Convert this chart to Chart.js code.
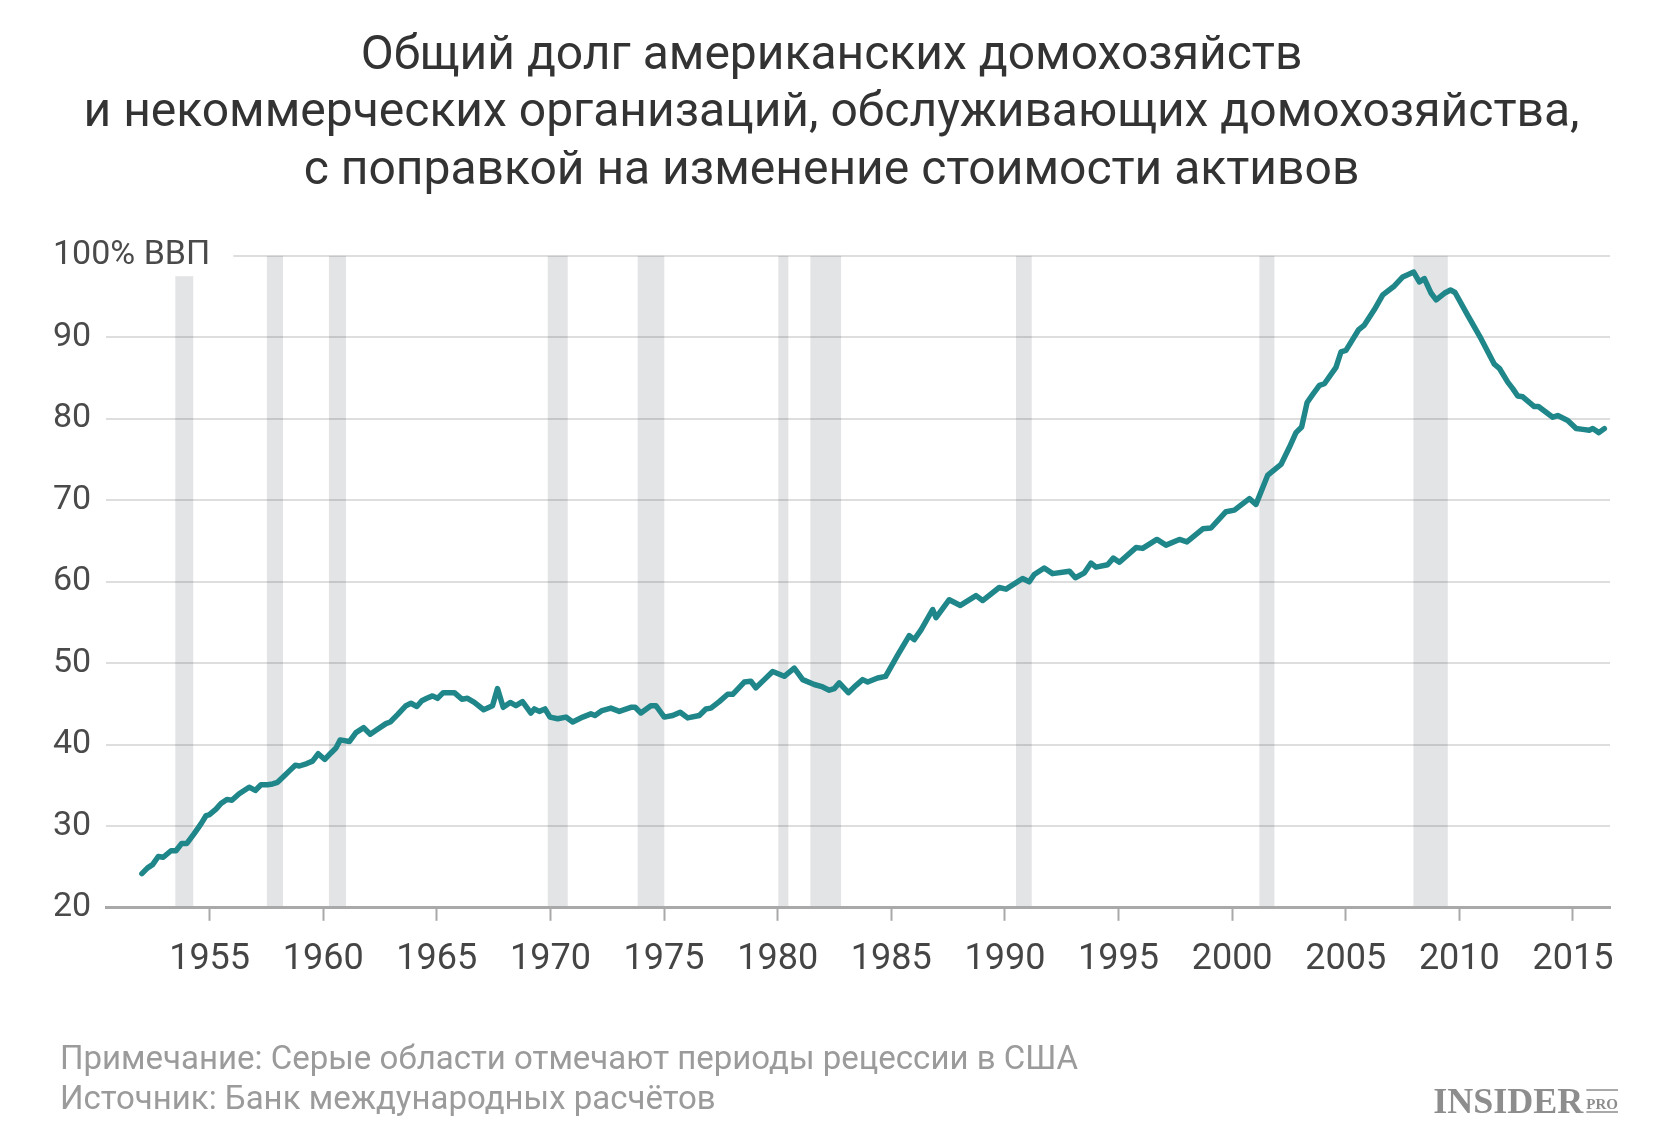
<!DOCTYPE html>
<html lang="ru">
<head>
<meta charset="utf-8">
<title>Общий долг американских домохозяйств</title>
<script src="https://cdn.jsdelivr.net/npm/chart.js@4"></script>
<style>
  html, body { margin: 0; padding: 0; background: #fff; }
  #wrap { width: 1667px; height: 1141px; position: relative; }
</style>
</head>
<body>
<div id="wrap"><canvas id="debtChart"></canvas></div>
<script>

// quarterly points (decimal year, % of GDP)
const quarters = [
  1952.02, 1952.27, 1952.49, 1952.74, 1952.96, 1953.30, 1953.52, 1953.77, 1954.00, 1954.32,
  1954.62, 1954.84, 1954.98, 1955.28, 1955.50, 1955.76, 1955.98, 1956.30, 1956.52, 1956.74,
  1957.01, 1957.26, 1957.55, 1957.77, 1957.99, 1958.29, 1958.51, 1958.77, 1958.95, 1959.28,
  1959.53, 1959.78, 1960.07, 1960.34, 1960.56, 1960.75, 1961.15, 1961.44, 1961.78, 1962.07,
  1962.39, 1962.76, 1962.95, 1963.27, 1963.64, 1963.86, 1964.12, 1964.34, 1964.56, 1964.81,
  1965.03, 1965.28, 1965.77, 1966.10, 1966.35, 1966.65, 1967.06, 1967.45, 1967.67, 1967.92,
  1968.23, 1968.48, 1968.77, 1969.14, 1969.29, 1969.51, 1969.76, 1969.98, 1970.32, 1970.68,
  1970.98, 1971.42, 1971.78, 1971.96, 1972.27, 1972.66, 1973.03, 1973.54, 1973.73, 1973.98,
  1974.42, 1974.64, 1975.01, 1975.38, 1975.71, 1976.04, 1976.55, 1976.84, 1977.06, 1977.43,
  1977.80, 1978.02, 1978.53, 1978.82, 1979.04, 1979.41, 1979.78, 1980.29, 1980.73, 1981.10,
  1981.61, 1981.98, 1982.27, 1982.49, 1982.71, 1983.11, 1983.45, 1983.74, 1983.96, 1984.40,
  1984.75, 1985.28, 1985.79, 1986.01, 1986.31, 1986.82, 1986.97, 1987.55, 1988.04, 1988.73,
  1989.02, 1989.75, 1990.05, 1990.78, 1991.07, 1991.29, 1991.73, 1992.10, 1992.84, 1993.10,
  1993.50, 1993.79, 1994.01, 1994.52, 1994.77, 1995.04, 1995.77, 1996.06, 1996.69, 1997.09,
  1997.68, 1998.01, 1998.71, 1999.07, 1999.73, 2000.10, 2000.76, 2001.05, 2001.57, 2002.15,
  2002.52, 2002.81, 2003.06, 2003.30, 2003.55, 2003.84, 2004.06, 2004.57, 2004.79, 2005.01,
  2005.56, 2005.82, 2006.26, 2006.63, 2007.14, 2007.51, 2007.99, 2008.24, 2008.46, 2008.76,
  2008.98, 2009.34, 2009.61, 2009.81, 2010.37, 2010.96, 2011.54, 2011.76, 2012.13, 2012.35,
  2012.57, 2012.79, 2013.30, 2013.48, 2014.11, 2014.33, 2014.77, 2015.14, 2015.43, 2015.72,
  2015.87, 2016.14, 2016.38
];

const debtPct = [
  24.2, 24.9, 25.3, 26.3, 26.2, 27.0, 27.0, 27.9, 27.9, 29.1,
  30.3, 31.3, 31.4, 32.1, 32.8, 33.3, 33.2, 34.0, 34.4, 34.8,
  34.4, 35.1, 35.1, 35.2, 35.4, 36.2, 36.8, 37.5, 37.4, 37.7,
  38.0, 38.9, 38.2, 39.0, 39.6, 40.6, 40.4, 41.5, 42.1, 41.3,
  41.9, 42.6, 42.8, 43.7, 44.8, 45.1, 44.7, 45.4, 45.7, 46.0,
  45.7, 46.4, 46.4, 45.6, 45.7, 45.2, 44.3, 44.8, 46.9, 44.6,
  45.2, 44.8, 45.3, 43.9, 44.4, 44.1, 44.4, 43.4, 43.2, 43.4,
  42.8, 43.4, 43.8, 43.6, 44.2, 44.5, 44.1, 44.6, 44.6, 43.9,
  44.8, 44.8, 43.4, 43.6, 44.0, 43.3, 43.6, 44.4, 44.5, 45.3,
  46.2, 46.2, 47.7, 47.8, 47.0, 48.0, 49.0, 48.4, 49.4, 48.0,
  47.4, 47.1, 46.7, 46.9, 47.6, 46.4, 47.3, 48.0, 47.7, 48.2,
  48.4, 51.0, 53.4, 52.9, 54.1, 56.6, 55.6, 57.8, 57.1, 58.3,
  57.7, 59.3, 59.1, 60.4, 60.0, 60.9, 61.7, 61.0, 61.3, 60.5,
  61.1, 62.3, 61.8, 62.1, 62.9, 62.4, 64.2, 64.1, 65.2, 64.5,
  65.2, 64.9, 66.5, 66.6, 68.6, 68.8, 70.2, 69.5, 73.1, 74.4,
  76.5, 78.3, 79.0, 82.0, 83.0, 84.1, 84.3, 86.3, 88.2, 88.4,
  90.9, 91.5, 93.4, 95.2, 96.3, 97.4, 98.0, 96.8, 97.2, 95.4,
  94.6, 95.4, 95.8, 95.5, 92.7, 89.8, 86.7, 86.2, 84.5, 83.7,
  82.8, 82.7, 81.5, 81.5, 80.2, 80.4, 79.8, 78.8, 78.7, 78.6,
  78.8, 78.3, 78.8
];

// US recessions (grey bands)
const recessionStart = [1953.49, 1957.52, 1960.25, 1969.88, 1973.84, 1980.03, 1981.44, 1990.49, 2001.20, 2007.98];
const recessionEnd   = [1954.28, 1958.23, 1961.00, 1970.76, 1975.01, 1980.47, 1982.79, 1991.18, 2001.86, 2009.49];

const tickYears = [1955, 1960, 1965, 1970, 1975, 1980, 1985, 1990, 1995, 2000, 2005, 2010, 2015];
const tickPct = [20, 30, 40, 50, 60, 70, 80, 90, 100];

const titleLines = [
  'Общий долг американских домохозяйств',
  'и некоммерческих организаций, обслуживающих домохозяйства,',
  'с поправкой на изменение стоимости активов'
];
const footerLines = [
  'Примечание: Серые области отмечают периоды рецессии в США',
  'Источник: Банк международных расчётов'
];

const fontFamily = "Roboto, 'Noto Sans', sans-serif";
Chart.defaults.font.family = fontFamily;

// grey recession bands, drawn before grid lines and the line
const recessionBands = {
  id: 'recessionBands',
  beforeDraw(chart) {
    const { ctx, scales: { x, y } } = chart;
    const top = y.getPixelForValue(100);
    const bottom = y.getPixelForValue(20);
    ctx.save();
    ctx.fillStyle = '#e3e4e6';
    recessionStart.forEach((s, i) => {
      const x1 = x.getPixelForValue(s);
      const x2 = x.getPixelForValue(recessionEnd[i]);
      ctx.fillRect(x1, top, x2 - x1, bottom - top);
    });
    ctx.restore();
  }
};

// note + source under the chart, INSIDER PRO mark on the right
const footer = {
  id: 'footer',
  afterDraw(chart) {
    const ctx = chart.ctx;
    const h = chart.height;
    ctx.save();
    ctx.fillStyle = '#9b9b9b';
    ctx.font = '33px ' + fontFamily;
    ctx.textAlign = 'left';
    ctx.textBaseline = 'middle';
    footerLines.forEach((line, i) => ctx.fillText(line, 60, h - 80 + i * 39.5));

    const right = chart.width - 49;
    const base = h - 28;
    ctx.fillStyle = '#8d8d8d';
    ctx.strokeStyle = '#8d8d8d';
    ctx.textBaseline = 'alphabetic';
    ctx.font = "bold 15px 'Liberation Serif', 'DejaVu Serif', serif";
    const pw = ctx.measureText('PRO').width;
    ctx.font = "bold 36px 'Liberation Serif', 'DejaVu Serif', serif";
    const iw = ctx.measureText('INSIDER').width;
    const px = right - pw;
    ctx.fillText('INSIDER', px - 3 - iw, base);
    ctx.font = "bold 15px 'Liberation Serif', 'DejaVu Serif', serif";
    ctx.fillText('PRO', px, base - 4);
    ctx.lineWidth = 1.5;
    ctx.beginPath();
    ctx.moveTo(px, base - 23); ctx.lineTo(right, base - 23);
    ctx.moveTo(px, base - 1); ctx.lineTo(right, base - 1);
    ctx.stroke();
    ctx.restore();
  }
};

const config = {
  type: 'line',
  data: {
    datasets: [{
      data: quarters.map((q, i) => ({ x: q, y: debtPct[i] })),
      borderColor: '#1f868a',
      borderWidth: 5.5,
      pointRadius: 0,
      tension: 0,
      borderJoinStyle: 'round',
      borderCapStyle: 'round'
    }]
  },
  options: {
    responsive: true,
    maintainAspectRatio: false,
    animation: false,
    layout: { padding: { left: 53, right: 57, top: 0, bottom: 141 } },
    scales: {
      x: {
        type: 'linear',
        min: 1950.44,
        max: 2016.63,
        afterBuildTicks: s => { s.ticks = tickYears.map(v => ({ value: v })); },
        border: { display: true, color: '#a9a9a9', width: 3 },
        grid: { drawOnChartArea: false, drawTicks: true, tickLength: 13, tickWidth: 2, tickColor: '#a9a9a9' },
        ticks: {
          color: '#454545',
          font: { size: 36 },
          padding: 18,
          maxRotation: 0,
          autoSkip: false,
          callback: v => String(v)
        }
      },
      y: {
        type: 'linear',
        min: 20,
        max: 100,
        afterBuildTicks: s => { s.ticks = tickPct.map(v => ({ value: v })); },
        afterFit: s => { s.width = 53; },
        border: { display: false },
        grid: { color: 'rgba(0,0,0,0.13)', lineWidth: 2, drawTicks: false },
        ticks: {
          // mirrored so the wide top label is not clipped at the plot edge
          mirror: true,
          padding: -53,
          crossAlign: 'near',
          autoSkip: false,
          color: '#4a4a4a',
          font: { size: 34 },
          callback: v => v === 100 ? '100% ВВП' : String(v),
          showLabelBackdrop: c => c.index === tickPct.length - 1,
          backdropColor: '#ffffff',
          backdropPadding: { top: 0, bottom: 0, left: 0, right: 23 }
        }
      }
    },
    plugins: {
      legend: { display: false },
      tooltip: { enabled: false },
      title: {
        display: true,
        text: titleLines,
        color: '#333333',
        font: { size: 48, weight: 'normal', lineHeight: 1.2 },
        padding: { top: 28, bottom: 55 }
      }
    }
  },
  plugins: [recessionBands, footer]
};

const debtChart = new Chart(document.getElementById('debtChart'), config);
</script>
</body>
</html>
